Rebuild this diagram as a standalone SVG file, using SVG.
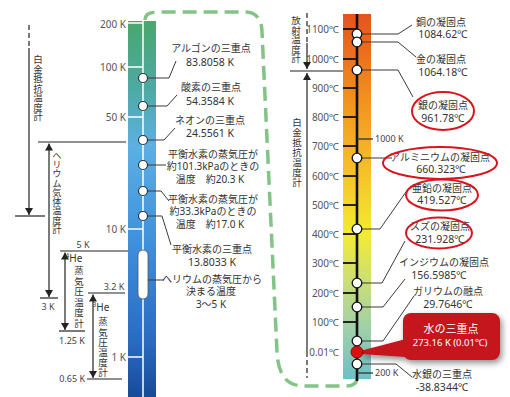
<svg xmlns="http://www.w3.org/2000/svg" width="510" height="397" viewBox="0 0 510 397">
<style>
text{font-family:"Noto Sans","Noto Sans CJK JP",sans-serif;fill:#333}
.jp{font-size:10px;text-anchor:middle}
.nm{font-size:10.5px}
.sc{font-size:10px;fill:#555;text-anchor:end}
.sm{font-size:9px;fill:#444}
.vv{font-size:9.5px;fill:#333;writing-mode:vertical-rl;text-orientation:upright;font-family:"Noto Sans CJK JP",sans-serif}
.hs{font-size:10px;text-anchor:middle}
.ld{stroke:#3a3a3a;stroke-width:1;fill:none}
.cw{fill:#fff;stroke:#333;stroke-width:1.2}
.cb{fill:#fff;stroke:#111;stroke-width:1.3}
.ell{fill:none;stroke:#d8141c;stroke-width:2}
.ax{stroke:#222;stroke-width:1.2;fill:none}
.dsh{stroke-dasharray:5 3}
.wt{stroke:#fff;stroke-width:1.5}
.bt{stroke:#111;stroke-width:1.8}
</style>
<defs>
<linearGradient id="gL" x1="0" y1="21" x2="0" y2="397" gradientUnits="userSpaceOnUse">
<stop offset="0" stop-color="#4aa66e"/>
<stop offset="0.18" stop-color="#4ea9a4"/>
<stop offset="0.33" stop-color="#5cb0e2"/>
<stop offset="0.6" stop-color="#3f8edb"/>
<stop offset="0.85" stop-color="#2a6bc2"/>
<stop offset="1" stop-color="#184b96"/>
</linearGradient>
<linearGradient id="gR" x1="0" y1="14" x2="0" y2="379" gradientUnits="userSpaceOnUse">
<stop offset="0" stop-color="#e6521f"/>
<stop offset="0.25" stop-color="#f2961e"/>
<stop offset="0.45" stop-color="#f6c52a"/>
<stop offset="0.6" stop-color="#f4ea30"/>
<stop offset="0.72" stop-color="#cfe070"/>
<stop offset="0.86" stop-color="#9fd0a8"/>
<stop offset="1" stop-color="#6ec0c8"/>
</linearGradient>
<marker id="ah" markerWidth="7" markerHeight="8" refX="7" refY="4" orient="auto-start-reverse" markerUnits="userSpaceOnUse">
<path d="M0,0 L7,4 L0,8 z" fill="#222"/>
</marker>
<filter id="sh" x="-30%" y="-30%" width="170%" height="180%">
<feDropShadow dx="2" dy="3" stdDeviation="3" flood-color="#000" flood-opacity="0.45"/>
</filter>
</defs>
<rect width="510" height="397" fill="#fff"/>

<!-- green dashed link -->
<path id="link" d="M145,20 C145,14 149,12 158,12 L246,12 C256,12 262,20 262,32 L277,352 C278,374 286,386 304,386 L346,386 C353,386 357,383 357,378" fill="none" stroke="#82c485" stroke-width="3.5" stroke-dasharray="14 7"/>

<!-- left bar -->
<g id="leftbar">
<rect x="128" y="21" width="28" height="376" fill="url(#gL)"/>
<line x1="143" y1="21" x2="143" y2="397" class="wt"/>
<g class="wt">
<line x1="128" y1="23" x2="143" y2="23"/>
<line x1="128" y1="67" x2="143" y2="67"/>
<line x1="128" y1="117" x2="143" y2="117"/>
<line x1="128" y1="229" x2="143" y2="229"/>
<line x1="128" y1="357" x2="143" y2="357"/>
</g>
<text class="sc" x="126" y="28">200 K</text>
<text class="sc" x="126" y="71">100 K</text>
<text class="sc" x="126" y="121">50 K</text>
<text class="sc" x="126" y="233">10 K</text>
<text class="sc" x="126" y="361">1 K</text>
<rect x="138" y="250" width="10" height="49" rx="5" fill="#fff" stroke="#555" stroke-width="0.8"/>
</g>

<!-- right bar -->
<g id="rightbar">
<rect x="343" y="14" width="28" height="365" fill="url(#gR)"/>
<line x1="357" y1="14" x2="357" y2="381" stroke="#111" stroke-width="2.6"/>
<g class="bt">
<line x1="343" y1="29" x2="357" y2="29"/>
<line x1="343" y1="59" x2="357" y2="59"/>
<line x1="343" y1="88" x2="357" y2="88"/>
<line x1="343" y1="117" x2="357" y2="117"/>
<line x1="343" y1="146" x2="357" y2="146"/>
<line x1="343" y1="176" x2="357" y2="176"/>
<line x1="343" y1="205" x2="357" y2="205"/>
<line x1="343" y1="234" x2="357" y2="234"/>
<line x1="343" y1="263" x2="357" y2="263"/>
<line x1="343" y1="293" x2="357" y2="293"/>
<line x1="343" y1="322" x2="357" y2="322"/>
</g>
<line x1="357" y1="139" x2="373" y2="139" stroke="#333" stroke-width="1.3"/>
<line x1="357" y1="373" x2="373" y2="373" stroke="#333" stroke-width="1.3"/>
<text class="sc" x="339" y="33">1100℃</text>
<text class="sc" x="339" y="63">1000℃</text>
<text class="sc" x="339" y="92">900℃</text>
<text class="sc" x="339" y="121">800℃</text>
<text class="sc" x="339" y="150">700℃</text>
<text class="sc" x="339" y="180">600℃</text>
<text class="sc" x="339" y="209">500℃</text>
<text class="sc" x="339" y="238">400℃</text>
<text class="sc" x="339" y="267">300℃</text>
<text class="sc" x="339" y="297">200℃</text>
<text class="sc" x="339" y="326">100℃</text>
<text class="sc" x="339" y="356">0.01℃</text>
<text class="sm" x="375" y="142">1000 K</text>
<text class="sm" x="375" y="376">200 K</text>
</g>

<!-- connectors -->
<g id="connectors" class="ld">
<path d="M143,78 H169 L176,61"/>
<path d="M143,106 H167 L177,95"/>
<path d="M143,140 H164 L175,128"/>
<path d="M143,165 H166"/>
<path d="M143,191 H161 L169,201"/>
<path d="M143,216 H162 L171,245"/>
<path d="M148,280 H164"/>
<path d="M357,34 H398 L412,25"/>
<path d="M357,42 H398 L416,57"/>
<path d="M357,70 H398 L413,97"/>
<path d="M357,158 H392"/>
<path d="M357,229 H380 L408,189"/>
<path d="M357,283 H382 L405,241"/>
<path d="M357,307 H383 L405,279"/>
<path d="M357,341 H383 L414,296"/>
<path d="M357,364 H396 L412,377"/>
</g>

<!-- left fixed points -->
<g id="ar"><circle class="cw" cx="143" cy="78" r="4.5"/><text class="jp" x="211" y="52">アルゴンの三重点<tspan class="nm" x="210" dy="13.5">83.8058 K</tspan></text></g>
<g id="o2"><circle class="cw" cx="143" cy="106" r="4.5"/><text class="jp" x="211" y="91">酸素の三重点<tspan class="nm" x="210" dy="13.5">54.3584 K</tspan></text></g>
<g id="ne"><circle class="cw" cx="143" cy="140" r="4.5"/><text class="jp" x="210" y="124">ネオンの三重点<tspan class="nm" x="210" dy="12.5">24.5561 K</tspan></text></g>
<g id="h2a"><circle class="cw" cx="143" cy="165" r="4.5"/><text class="jp" x="213" y="157.5">平衡水素の蒸気圧が<tspan x="213" dy="12.5">約101.3kPaのときの</tspan><tspan x="210" dy="12.5">温度　約20.3 K</tspan></text></g>
<g id="h2b"><circle class="cw" cx="143" cy="191" r="4.5"/><text class="jp" x="213" y="202.5">平衡水素の蒸気圧が<tspan x="213" dy="12.5">約33.3kPaのときの</tspan><tspan x="210" dy="12.5">温度　約17.0 K</tspan></text></g>
<g id="h2t"><circle class="cw" cx="143" cy="216" r="4.5"/><text class="jp" x="212" y="253">平衡水素の三重点<tspan class="nm" x="212" dy="13">13.8033 K</tspan></text></g>
<g id="he"><text class="jp" x="212" y="282.5">ヘリウムの蒸気圧から<tspan x="211" dy="12.5">決まる温度</tspan><tspan x="211" dy="12.5">3～5 K</tspan></text></g>

<!-- right fixed points -->
<g id="cu"><circle class="cb" cx="357" cy="34" r="4.8"/><text class="jp" x="441" y="25.5">銅の凝固点<tspan class="nm" x="443" dy="12.5">1084.62℃</tspan></text></g>
<g id="au"><circle class="cb" cx="357" cy="42" r="4.8"/><text class="jp" x="441" y="63">金の凝固点<tspan class="nm" x="443" dy="12.5">1064.18℃</tspan></text></g>
<g id="ag"><circle class="cb" cx="357" cy="70" r="4.8"/><text class="jp" x="443" y="109">銀の凝固点<tspan class="nm" x="443" dy="12.5">961.78℃</tspan></text><ellipse class="ell" cx="443" cy="111" rx="31" ry="19"/></g>
<g id="al"><circle class="cb" cx="357" cy="158" r="4.8"/><text class="jp" x="440" y="160.5">アルミニウムの凝固点<tspan class="nm" x="441" dy="12.5">660.323℃</tspan></text><ellipse class="ell" cx="440" cy="163" rx="57" ry="16"/></g>
<g id="zn"><circle class="cb" cx="357" cy="229" r="4.8"/><text class="jp" x="442" y="191.5">亜鉛の凝固点<tspan class="nm" x="442" dy="12.5">419.527℃</tspan></text><ellipse class="ell" cx="442" cy="195" rx="36" ry="15.5"/></g>
<g id="sn"><circle class="cb" cx="357" cy="283" r="4.8"/><text class="jp" x="440" y="230">スズの凝固点<tspan class="nm" x="440" dy="12.5">231.928℃</tspan></text><ellipse class="ell" cx="439" cy="233" rx="33" ry="15.5"/></g>
<g id="in"><circle class="cb" cx="357" cy="307" r="4.8"/><text class="jp" x="444" y="266">インジウムの凝固点<tspan class="nm" x="439" dy="12.5">156.5985℃</tspan></text></g>
<g id="ga"><circle class="cb" cx="357" cy="341" r="4.8"/><text class="jp" x="448" y="295">ガリウムの融点<tspan class="nm" x="448" dy="12.5">29.7646℃</tspan></text></g>
<g id="hg"><circle class="cb" cx="357" cy="364" r="4.8"/><text class="jp" x="442" y="378">水銀の三重点<tspan class="nm" x="442" dy="12.5">-38.8344℃</tspan></text></g>
<g id="water">
<g filter="url(#sh)">
<rect x="403" y="313" width="97" height="47" rx="8" fill="#c4151c"/>
<polygon points="406,339 406,357 360,354 360,351" fill="#c4151c"/>
</g>
<circle cx="357" cy="352" r="6" fill="#d81010" stroke="#8a0808" stroke-width="1"/>
<text x="451" y="333" text-anchor="middle" style="font-size:11px;fill:#fff">水の三重点<tspan x="450" dy="13" style="font-size:9.5px">273.16 K (0.01℃)</tspan></text>
</g>

<!-- thermometer ranges, left -->
<g id="pt-left">
<line class="ax dsh" x1="29" y1="25" x2="29" y2="48"/>
<line class="ax" x1="29" y1="48" x2="29" y2="215" marker-end="url(#ah)"/>
<line class="ax" x1="15" y1="216" x2="45" y2="216"/>
<text class="vv" x="38" y="55">白金抵抗温度計</text>
</g>
<g id="he-gas">
<line class="ax" x1="38" y1="142" x2="126" y2="142"/>
<line class="ax" x1="49" y1="143.5" x2="49" y2="297" marker-start="url(#ah)" marker-end="url(#ah)"/>
<line class="ax" x1="40" y1="298" x2="58" y2="298"/>
<text class="sm" x="48" y="310" text-anchor="middle">3 K</text>
<text class="vv" x="57" y="150.5" style="font-size:9.3px">ヘリウム気体温度計</text>
</g>
<g id="he4">
<line class="ax" x1="60" y1="251" x2="128" y2="251"/>
<text class="sm" x="83" y="248" text-anchor="middle">5 K</text>
<line class="ax" x1="65" y1="252.5" x2="65" y2="330" marker-start="url(#ah)" marker-end="url(#ah)"/>
<line class="ax" x1="59" y1="331" x2="85" y2="331"/>
<text class="sm" x="72" y="344" text-anchor="middle">1.25 K</text>
<text class="hs" x="74" y="262"><tspan font-size="6.5" dy="-4">4</tspan><tspan dy="4">He</tspan></text>
<text class="vv" x="79" y="266" style="letter-spacing:1px">蒸気圧温度計</text>
</g>
<g id="he3">
<line class="ax" x1="88" y1="293" x2="125" y2="293"/>
<text class="sm" x="114" y="290" text-anchor="middle">3.2 K</text>
<line class="ax" x1="93" y1="294.5" x2="93" y2="378" marker-start="url(#ah)" marker-end="url(#ah)"/>
<line class="ax" x1="87" y1="379" x2="122" y2="379"/>
<text class="sm" x="85" y="382" text-anchor="end">0.65 K</text>
<text class="hs" x="101" y="311"><tspan font-size="6.5" dy="-4">3</tspan><tspan dy="4">He</tspan></text>
<text class="vv" x="103" y="317" style="letter-spacing:0.7px">蒸気圧温度計</text>
</g>

<!-- thermometer ranges, right -->
<g id="radiation">
<line class="ax dsh" x1="307" y1="13" x2="307" y2="43"/>
<line class="ax" x1="307" y1="43" x2="307" y2="69" marker-end="url(#ah)"/>
<line class="ax" x1="290" y1="71" x2="343" y2="71"/>
<text class="vv" x="296" y="16">放射温度計</text>
</g>
<g id="pt-right">
<line class="ax" x1="307" y1="73" x2="307" y2="352" marker-start="url(#ah)"/>
<line class="ax dsh" x1="307" y1="352" x2="307" y2="378"/>
<text class="vv" x="297" y="118" style="letter-spacing:0.5px">白金抵抗温度計</text>
</g>
</svg>
